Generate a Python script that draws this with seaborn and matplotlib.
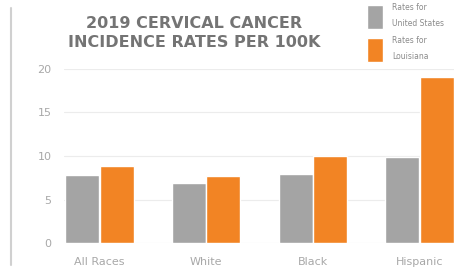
import pandas as pd
import matplotlib.pyplot as plt
import seaborn as sns
from matplotlib.lines import Line2D

# data
groups = ['All Races', 'White', 'Black', 'Hispanic']
us_rates = [7.8, 6.9, 7.9, 9.9]
la_rates = [8.9, 7.7, 10.0, 19.1]
series = ['United States', 'Louisiana']
legend_labels = ['Rates for\nUnited States', 'Rates for\nLouisiana']
y_ticks = [0, 5, 10, 15, 20]

GRAY = '#a4a4a4'
ORANGE = '#f28424'
TEXT = '#a8a8a8'


def make_chart():
    df = pd.DataFrame({
        'Group': groups * 2,
        'Rate': us_rates + la_rates,
        'Series': [series[0]] * len(groups) + [series[1]] * len(groups),
    })

    sns.set_theme(style='white')
    plt.rcParams['font.family'] = ['DejaVu Sans']

    fig = plt.figure(figsize=(4.54, 2.70), dpi=100)
    ax = fig.add_axes([64 / 454, 1 - 243 / 270, 1 - 64 / 454, (243 - 69) / 270])

    sns.barplot(data=df, x='Group', y='Rate', hue='Series', order=groups,
                hue_order=series, palette=[GRAY, ORANGE], width=0.65,
                gap=0.02, saturation=1, ax=ax)

    ax.set_xlim(-0.33, 3.32)
    ax.set_ylim(0, 20)
    ax.set_yticks(y_ticks)
    ax.yaxis.grid(True, color='#ececec', linewidth=0.8)
    ax.set_axisbelow(True)
    for s in ax.spines.values():
        s.set_visible(False)
    ax.tick_params(axis='y', length=0, pad=9, labelsize=8, labelcolor=TEXT)
    ax.tick_params(axis='x', length=0, pad=10, labelsize=8, labelcolor=TEXT)
    ax.set_xlabel('')
    ax.set_ylabel('')

    # legend sits top right, tall swatches with two-line labels
    handles, _ = ax.get_legend_handles_labels()
    ax.get_legend().remove()
    leg = fig.legend(handles, legend_labels, loc='upper left',
                     bbox_to_anchor=(367 / 454, 1 - 3 / 270), frameon=False,
                     fontsize=5.5, handlelength=2.1, handleheight=4.4,
                     handletextpad=1.2, labelspacing=0.9, borderpad=0,
                     borderaxespad=0, labelcolor='#8a8a8a')
    for t in leg.get_texts():
        t.set_linespacing(2.0)

    fig.text(194 / 454, 1 - 33 / 270, '2019 CERVICAL CANCER\nINCIDENCE RATES PER 100K',
             ha='center', va='center', fontsize=11.5, fontweight='bold',
             color='#747474', linespacing=1.4)

    fig.add_artist(Line2D([11 / 454, 11 / 454], [1 - 8 / 270, 1 - 265 / 270],
                          color='#d0d0d0', linewidth=1.5))

    fig.savefig('out.png', dpi=100)
    plt.close(fig)


if __name__ == '__main__':
    make_chart()
